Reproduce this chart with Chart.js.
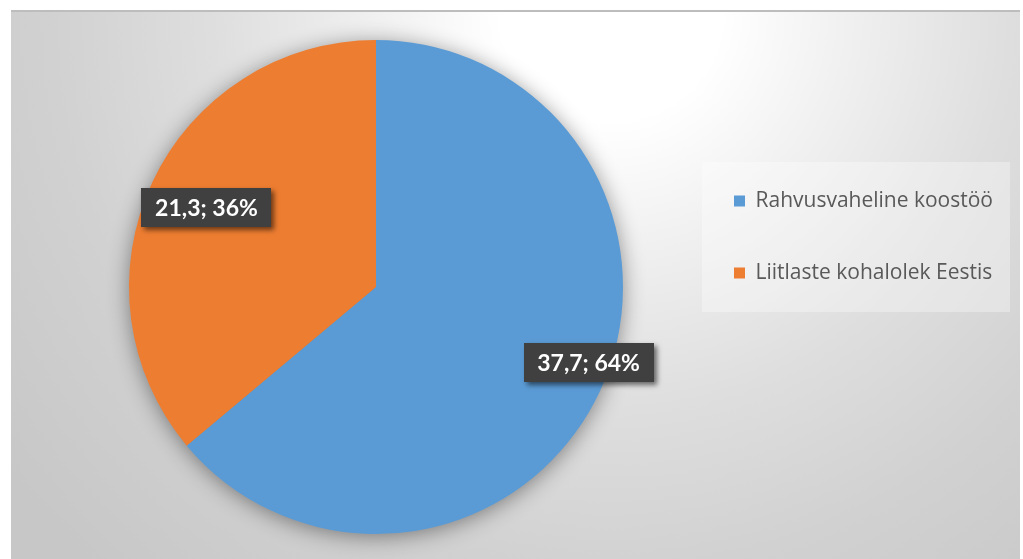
<!DOCTYPE html>
<html><head><meta charset="utf-8">
<script src="https://cdn.jsdelivr.net/npm/chart.js@4/dist/chart.umd.min.js"></script>
<style>
html,body{margin:0;padding:0;background:#fff;width:1023px;height:559px;overflow:hidden}
#frame{position:absolute;left:11px;top:10px;width:1009px;height:549px;
background:radial-gradient(circle at 600px 0px,#ffffff 0px,#ffffff 110px,#f1f1f1 230px,#dedede 400px,#d1d1d1 560px,#c7c7c7 760px);}
#topline{position:absolute;left:11px;top:10px;width:1009px;height:2px;background:#bdbdbd}
#c{position:absolute;left:0;top:0}
</style></head><body>
<div id="frame"><canvas id="c" width="1009" height="549"></canvas></div>
<div id="topline"></div>
<script>
// ---- data ----
const categories = ['Rahvusvaheline koostöö', 'Liitlaste kohalolek Eestis'];
const values = [37.7, 21.3];
const colors = ['#5B9BD5', '#ED7D31'];

// ---- styles ----
const legendFont = {family: '"Open Sans"', size: 21};
const legendPad = 51;
const legendBox = 11;
const labelFont = 'bold 23px Lato';
// label placement: radial factor and pixel nudge per slice
const labelPlace = [{k: 0.914, dx: 8, dy: -20}, {k: 0.762, dx: 1, dy: 0}];

const total = values.reduce((a, b) => a + b, 0);
const fmt = v => v.toFixed(1).replace('.', ',');
const labelText = values.map(v => fmt(v) + '; ' + Math.round(v / total * 100) + '%');

// measure legend text to set padding so legend begins where wanted
const mctx = document.createElement('canvas').getContext('2d');
mctx.font = legendFont.size + 'px ' + legendFont.family;
const textW = Math.max(...categories.map(t => mctx.measureText(t).width));
const legendW = legendPad + legendBox + legendFont.size / 2 + textW + 10;
const legendLeft = 672;
const padLeft = 58;
const padRight = Math.max(0, 1009 - legendLeft - legendW);

const legendPlacer = {
  id: 'legendPlacer',
  afterLayout(chart) {
    const lg = chart.legend;
    lg.top = 124; lg.bottom = 330; lg.height = 206;
  },
  beforeDraw(chart) {
    const ctx = chart.ctx;
    ctx.save();
    ctx.fillStyle = 'rgba(255,255,255,0.32)';
    ctx.fillRect(691, 152, 308, 150);
    ctx.restore();
  }
};

const pieShadow = {
  id: 'pieShadow',
  beforeDatasetsDraw(chart) {
    const arc = chart.getDatasetMeta(0).data[0];
    if (!arc) return;
    const ctx = chart.ctx;
    ctx.save();
    ctx.shadowColor = 'rgba(0,0,0,0.45)';
    ctx.shadowBlur = 22;
    ctx.shadowOffsetX = 0;
    ctx.shadowOffsetY = 3;
    ctx.fillStyle = '#888';
    ctx.beginPath();
    ctx.arc(arc.x, arc.y, arc.outerRadius - 1, 0, Math.PI * 2);
    ctx.fill();
    ctx.restore();
  }
};

const dataLabels = {
  id: 'dataLabels',
  afterDatasetsDraw(chart) {
    const ctx = chart.ctx;
    const meta = chart.getDatasetMeta(0);
    meta.data.forEach((arc, i) => {
      const mid = (arc.startAngle + arc.endAngle) / 2;
      const p = labelPlace[i];
      const x = arc.x + Math.cos(mid) * arc.outerRadius * p.k + p.dx;
      const y = arc.y + Math.sin(mid) * arc.outerRadius * p.k + p.dy;
      ctx.save();
      ctx.font = labelFont;
      const w = 130, h = 39;
      ctx.shadowColor = 'rgba(0,0,0,0.55)';
      ctx.shadowBlur = 5;
      ctx.shadowOffsetX = 3;
      ctx.shadowOffsetY = 3;
      ctx.fillStyle = '#404040';
      ctx.fillRect(Math.round(x - w / 2), Math.round(y - h / 2), w, h);
      ctx.shadowColor = 'transparent';
      ctx.fillStyle = '#ffffff';
      ctx.textAlign = 'center';
      ctx.textBaseline = 'middle';
      ctx.fillText(labelText[i], x, y + 1);
      ctx.restore();
    });
  }
};

new Chart(document.getElementById('c'), {
  type: 'pie',
  data: {
    labels: categories,
    datasets: [{
      data: values,
      backgroundColor: colors,
      borderWidth: 0,
      hoverOffset: 0,
      offset: 0,
      clip: false
    }]
  },
  options: {
    responsive: false,
    animation: false,
    events: [],
    layout: {padding: {top: 30, bottom: 25, left: padLeft, right: padRight}},
    plugins: {
      tooltip: {enabled: false},
      legend: {
        position: 'right',
        align: 'center',
        labels: {
          boxWidth: legendBox,
          boxHeight: legendBox,
          padding: legendPad,
          color: '#595959',
          font: legendFont
        }
      }
    }
  },
  plugins: [legendPlacer, pieShadow, dataLabels]
});
</script>
</body></html>
